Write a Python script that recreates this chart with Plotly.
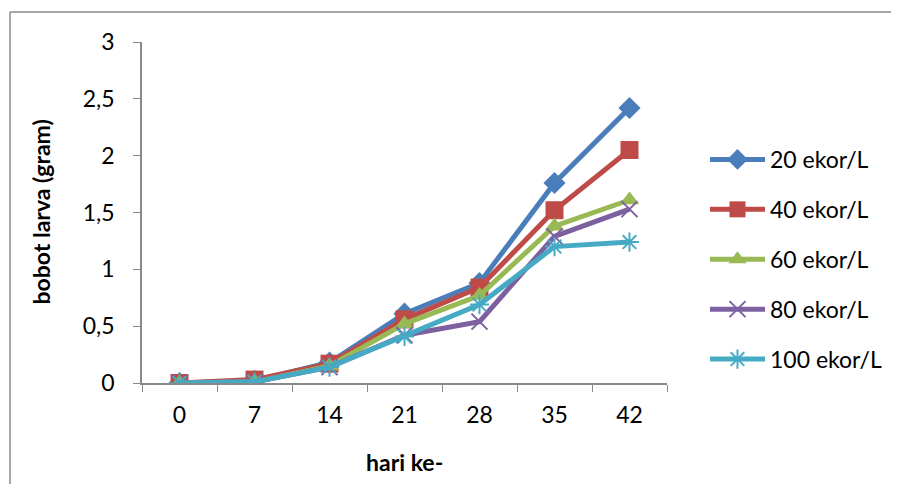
import plotly.graph_objects as go

days = ["0", "7", "14", "21", "28", "35", "42"]
series_names = ["20 ekor/L", "40 ekor/L", "60 ekor/L", "80 ekor/L", "100 ekor/L"]
s20 = [0.0, 0.02, 0.18, 0.61, 0.88, 1.76, 2.42]
s40 = [0.0, 0.03, 0.17, 0.56, 0.84, 1.52, 2.05]
s60 = [0.0, 0.01, 0.15, 0.52, 0.77, 1.38, 1.61]
s80 = [0.0, 0.01, 0.14, 0.42, 0.54, 1.29, 1.53]
s100 = [0.0, 0.01, 0.14, 0.41, 0.69, 1.20, 1.24]
y_ticks = [0, 0.5, 1, 1.5, 2, 2.5, 3]

colors = ["#4A7EBB", "#BE4B48", "#98B954", "#7D60A0", "#46AAC5"]
symbols = ["diamond", "square", "triangle-up", "x-thin-open", "asterisk-open"]
sizes = [17, 18, 17, 16, 16]
all_series = [s20, s40, s60, s80, s100]

FONT = "Lato"
FS = 23
# page body has an 8px offset; figure coords are shifted accordingly
OFF = 8
L, T = 142 - OFF, 42 - OFF
PW, PH = 525, 341
W, H = 891, 476
fig = go.Figure()
for i, (name, vals) in enumerate(zip(series_names, all_series)):
    fig.add_trace(go.Scatter(
        x=days, y=vals, name=name, mode="lines+markers",
        line=dict(color=colors[i], width=5),
        marker=dict(symbol=symbols[i], size=sizes[i], color=colors[i],
                    line=dict(color=colors[i], width=2 if i >= 3 else 0)),
        legendgroup=name,
    ))

bx0 = (10 - 142) / PW
bx1 = (915 - 142) / PW
by0 = (383 - 520) / PH
by1 = 1 + (42 - 12) / PH
border = dict(color="#8A8A8A", width=1.5)

fig.update_layout(
    width=W, height=H,
    margin=dict(l=L, r=W - L - PW, t=T, b=H - T - PH),
    paper_bgcolor="white", plot_bgcolor="white",
    separators=",.",
    font=dict(family=FONT, size=FS, color="#000000"),
    showlegend=True,
    legend=dict(x=(705 - 142) / PW, y=0.5 - 47 / PH, xanchor="left", yanchor="middle",
                font=dict(family=FONT, size=FS), tracegroupgap=17, itemwidth=55,
                bgcolor="rgba(0,0,0,0)"),
    xaxis=dict(type="category", range=[-0.5, 6.5], showline=True, linecolor="#888888",
               linewidth=1.5, ticks="outside", ticklen=7, tickcolor="#888888",
               tickson="boundaries", showgrid=False, zeroline=False,
               ticklabelstandoff=11, tickfont=dict(size=FS)),
    yaxis=dict(range=[0, 3], tickvals=y_ticks, showline=True, linecolor="#888888",
               linewidth=1.5, ticks="outside", ticklen=7, tickcolor="#888888",
               showgrid=False, zeroline=False, ticklabelstandoff=14,
               tickfont=dict(size=FS)),
    shapes=[
        dict(type="line", xref="paper", yref="paper", x0=bx0, x1=bx1, y0=by1, y1=by1,
             line=border, layer="below"),
        dict(type="line", xref="paper", yref="paper", x0=bx0, x1=bx0, y0=by0, y1=by1,
             line=border, layer="below"),
    ],
    annotations=[
        dict(text="<b>bobot larva (gram)</b>", xref="paper", yref="paper",
             x=(40 - 142) / PW, y=0.5, xanchor="center", yanchor="middle",
             textangle=-90, showarrow=False, font=dict(family=FONT, size=FS)),
        dict(text="<b>hari ke-</b>", xref="paper", yref="paper",
             x=0.5, y=(383 - 462) / PH, xanchor="center", yanchor="middle",
             showarrow=False, font=dict(family=FONT, size=FS)),
    ],
)

fig.write_html("out.html", config={"displayModeBar": False})
